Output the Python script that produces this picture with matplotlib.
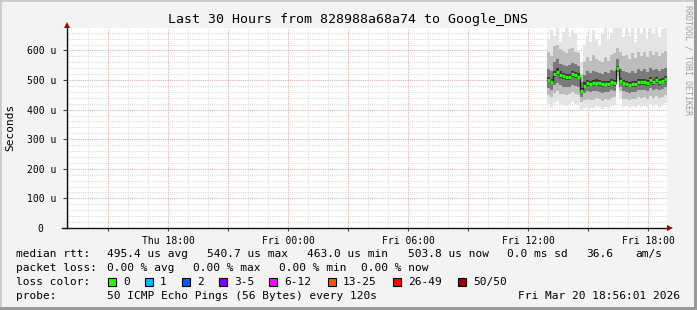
import matplotlib.pyplot as plt
import matplotlib.dates as mdates
from matplotlib.patches import Rectangle, Polygon
from matplotlib.lines import Line2D
import numpy as np
import pandas as pd

plt.rcParams['font.family'] = 'DejaVu Sans Mono'

# SmokePing graph: Last 30 Hours from 828988a68a74 to Google_DNS
title = 'Last 30 Hours from 828988a68a74 to Google_DNS'
t_start = pd.Timestamp('2026-03-19 12:56:01')
t_end = pd.Timestamp('2026-03-20 18:56:01')

# data columns, one every 9 minutes (values in microseconds)
times = pd.date_range('2026-03-20 12:56:00', periods=41, freq='9min')
median = [500, 494, 520, 528, 518, 513, 509, 510, 519, 517,
          512, 463, 481, 489, 488, 490, 491, 489, 486, 488,
          487, 495, 490, 540.7, 496, 491, 487, 484, 486, 486,
          494, 493, 494, 490, 500, 494, 499, 494, 498, 503.8]
smoke_min = [418, 410, 422, 428, 420, 416, 412, 420, 426, 418,
             416, 400, 404, 410, 406, 404, 412, 408, 402, 410,
             406, 414, 416, 505, 440, 410, 412, 405, 412, 410,
             416, 410, 414, 408, 420, 412, 418, 410, 416, 422]
smoke_p10 = [448, 444, 456, 462, 454, 452, 448, 452, 458, 454,
             450, 425, 432, 437, 434, 433, 438, 436, 430, 436,
             433, 441, 442, 515, 462, 437, 436, 432, 437, 437,
             443, 439, 442, 437, 447, 441, 446, 440, 444, 451]
smoke_p25 = [472, 468, 484, 490, 482, 478, 475, 477, 484, 480,
             476, 442, 456, 462, 460, 462, 463, 461, 457, 461,
             459, 466, 463, 526, 478, 463, 460, 457, 461, 460,
             467, 465, 467, 462, 472, 466, 470, 465, 469, 476]
smoke_p40 = [492, 486, 510, 518, 508, 503, 499, 500, 509, 507,
             502, 455, 472, 480, 479, 481, 482, 480, 477, 479,
             478, 486, 481, 535, 489, 482, 478, 475, 477, 477,
             485, 484, 485, 481, 491, 485, 490, 485, 489, 495]
smoke_p60 = [510, 503, 532, 540, 530, 524, 520, 521, 530, 528,
             524, 472, 492, 500, 498, 500, 502, 499, 496, 498,
             497, 505, 500, 548, 506, 501, 497, 494, 496, 496,
             504, 503, 504, 500, 510, 504, 509, 504, 508, 514]
smoke_p75 = [538, 530, 562, 570, 556, 552, 546, 551, 558, 553,
             548, 492, 518, 530, 524, 532, 528, 524, 522, 528,
             524, 534, 532, 570, 537, 530, 528, 523, 530, 525,
             537, 531, 536, 528, 540, 533, 539, 531, 537, 542]
smoke_p90 = [596, 580, 614, 618, 604, 598, 592, 606, 610, 596,
             590, 520, 560, 578, 566, 584, 572, 566, 562, 578,
             566, 584, 590, 610, 594, 580, 586, 572, 590, 574,
             596, 582, 594, 578, 598, 584, 596, 580, 592, 598]
smoke_max = [640, 668, 650, 676, 630, 662, 676, 645, 670, 655,
             600, 560, 615, 650, 628, 668, 640, 620, 655, 676,
             635, 660, 676, 676, 676, 645, 676, 650, 676, 630,
             676, 655, 676, 640, 676, 660, 676, 645, 672, 676]

loss_labels = ['0', '1', '2', '3-5', '6-12', '13-25', '26-49', '50/50']
loss_colors = ['#26ff00', '#00b8ff', '#0059ff', '#7e00ff', '#ff00ff',
               '#ff5500', '#ff0000', '#a00000']

W, H = 697, 310
fig = plt.figure(figsize=(W / 100, H / 100), dpi=100)
fig.patch.set_facecolor('#f3f3f3')
# rrdtool style shaded frame
fig.patches.append(Rectangle((0, 0), 1, 1, transform=fig.transFigure, fill=False,
                             edgecolor='#cbcbcb', lw=2))
fig.patches.append(Rectangle((1 - 3 / W, 0), 3 / W, 1, transform=fig.transFigure,
                             color='#999999', lw=0))
fig.patches.append(Rectangle((0, 0), 1, 3 / H, transform=fig.transFigure,
                             color='#999999', lw=0))

ax = fig.add_axes([67 / W, 1 - 228 / H, 600 / W, 200 / H])
ax.set_facecolor('white')

x = mdates.date2num(times)
ymax = 676
y = lambda a: np.append(np.array(a), a[-1]) / 1e6

# smoke bands, lighter outside, darker toward the median
bands = [(smoke_min, smoke_max, '#e4e4e4'),
         (smoke_p10, smoke_p90, '#bdbdbd'),
         (smoke_p25, smoke_p75, '#7a7a7a'),
         (smoke_p40, smoke_p60, '#383838')]
for lo, hi, c in bands:
    ax.fill_between(x, y(lo), y(hi), step='post', color=c, lw=0, zorder=2)

ax.step(x, y(median), where='post', color='#202020', lw=1, zorder=3)
ax.hlines(np.array(median) / 1e6, x[:-1], x[1:], color=loss_colors[0], lw=2.4, zorder=4)

ax.set_xlim(mdates.date2num(t_start), mdates.date2num(t_end))
ax.set_ylim(0, ymax / 1e6)

# grid
ax.xaxis.set_major_locator(mdates.HourLocator(byhour=range(0, 24, 6)))
ax.xaxis.set_minor_locator(mdates.HourLocator(byhour=range(0, 24, 3)))
ax.xaxis.set_major_formatter(mdates.DateFormatter('%a %H:%M'))
for h in pd.date_range('2026-03-19 13:00', '2026-03-20 18:00', freq='1h'):
    col = '#e4b0b0' if h.hour % 3 == 0 else '#dcdcdc'
    ax.axvline(mdates.date2num(h), color=col, lw=0.8, ls=(0, (1, 1)), zorder=1)
yt = np.arange(0, 700, 100)
for v in np.arange(20, ymax, 20):
    col = '#e4b0b0' if v % 100 == 0 else '#dcdcdc'
    ax.axhline(v / 1e6, color=col, lw=0.8, ls=(0, (1, 1)), zorder=1)
ax.set_yticks(yt / 1e6)
ax.set_yticklabels(['0  '] + ['%d u' % v for v in yt[1:]])

ax.tick_params(axis='y', which='major', length=3, width=0.8, pad=5, labelsize=7,
               direction='out', color='#404040')
ax.tick_params(axis='x', which='both', length=2, width=0.8, pad=4, labelsize=7,
               direction='out', color='#404040')

for s in ['top', 'right']:
    ax.spines[s].set_visible(False)
for s in ['left', 'bottom']:
    ax.spines[s].set_color('#101010')
    ax.spines[s].set_linewidth(1)
    ax.spines[s].set_zorder(5)
fig.add_artist(Line2D([62 / W, 67 / W], [1 - 228 / H, 1 - 228 / H], color='#101010', lw=1))

# axis arrows
fig.patches.append(Polygon([[64 / W, 1 - 28 / H], [70 / W, 1 - 28 / H], [67 / W, 1 - 22 / H]],
                           transform=fig.transFigure, color='#a00000', lw=0))
fig.patches.append(Polygon([[667 / W, 1 - 225 / H], [667 / W, 1 - 231 / H], [673 / W, 1 - 228 / H]],
                           transform=fig.transFigure, color='#a00000', lw=0))

fig.text(348 / W, 1 - 19 / H, title, ha='center', va='center', fontsize=9.5)
fig.text(10 / W, 1 - 127 / H, 'Seconds', ha='center', va='center', rotation=90, fontsize=8)
fig.text(688 / W, 1 - 60 / H, 'RRDTOOL / TOBI OETIKER', ha='center', va='center',
         rotation=270, fontsize=6, color='#a0a0a0')

# legend lines
fs = 8
def line(ypix, items):
    for xp, s in items:
        fig.text(xp / W, 1 - ypix / H, s, ha='left', va='center', fontsize=fs)

line(254, [(16, 'median rtt:'), (107, '495.4 us avg'), (207, '540.7 us max'),
           (307, '463.0 us min'), (408, '503.8 us now'), (507, '0.0 ms sd'),
           (586, '36.6'), (635, 'am/s')])
line(268, [(16, 'packet loss:'), (107, '0.00 % avg'), (193, '0.00 % max'),
           (279, '0.00 % min'), (361, '0.00 % now')])
line(282, [(16, 'loss color:')])
box_x = [108, 145, 182, 219, 269, 328, 393, 458]
for bx, lab, c in zip(box_x, loss_labels, loss_colors):
    fig.patches.append(Rectangle((bx / W, 1 - 286 / H), 8 / W, 8 / H, transform=fig.transFigure,
                                 facecolor=c, edgecolor='black', lw=0.8))
    fig.text((bx + 15) / W, 1 - 282 / H, lab, ha='left', va='center', fontsize=fs)
line(296, [(16, 'probe:'), (107, '50 ICMP Echo Pings (56 Bytes) every 120s')])
fig.text(680 / W, 1 - 296 / H, 'Fri Mar 20 18:56:01 2026', ha='right', va='center', fontsize=fs)

fig.savefig('out.png', dpi=100, facecolor=fig.get_facecolor())
